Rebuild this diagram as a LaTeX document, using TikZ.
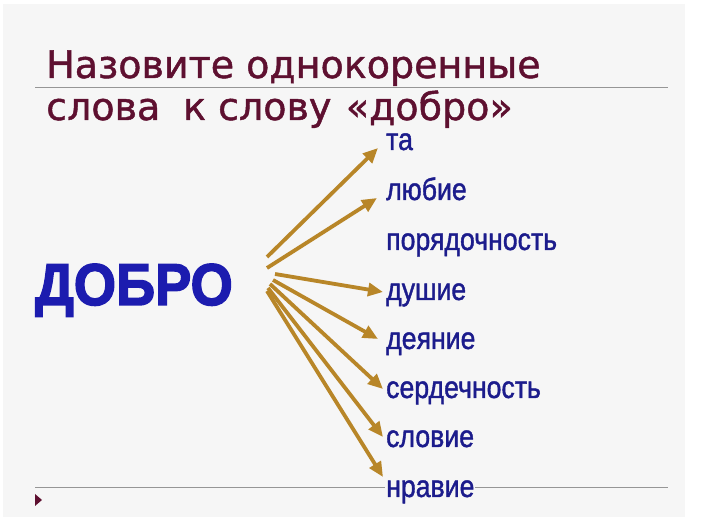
\documentclass[tikz,border=0pt]{standalone}
\usepackage{fontspec}
\setmainfont{DejaVu Sans}
\newfontfamily\titlefont[FakeBold=1.2]{DejaVu Sans}
\newfontfamily\wordfont[FakeBold=1.4]{Liberation Sans}
\newfontfamily\bigfont[FakeBold=2.5]{Liberation Sans}
\usetikzlibrary{arrows.meta}
\definecolor{bg}{RGB}{246,246,246}
\definecolor{titlecol}{RGB}{94,16,48}
\definecolor{wordcol}{RGB}{28,28,140}
\definecolor{bigcol}{RGB}{28,28,175}
\definecolor{arrowcol}{RGB}{184,134,40}
\definecolor{rulecol}{RGB}{150,150,150}
\tikzset{
  titletext/.style={anchor=base west, inner sep=0pt, text=titlecol, font=\titlefont\fontsize{38}{40}\selectfont},
  wordtext/.style={anchor=base west, inner sep=0pt, text=wordcol, font=\wordfont\fontsize{31}{34}\selectfont},
  arr/.style={draw=arrowcol, line width=3.8pt, -{Triangle[length=15pt,width=13pt]}},
  rulestyle/.style={draw=rulecol, line width=0.9pt}
}
\newcommand{\myword}[1]{\scalebox{0.86}[1]{#1}}
\begin{document}
\begin{tikzpicture}[x=1pt,y=-1pt]
\useasboundingbox (0,0) rectangle (702,526);
\fill[white] (0,0) rectangle (702,526);
\fill[bg] (3,4) rectangle (685,517);
% rules
\coordinate (r1a) at (35,87);
\coordinate (r1b) at (668,87);
\coordinate (r2a) at (35,487);
\coordinate (r2b) at (668,487);
\draw[rulestyle] (r1a) -- (r1b);
\draw[rulestyle] (r2a) -- (r2b);
% title
\node[titletext] (t1) at (46,78) {Назовите однокоренные};
\node[titletext, text depth=5pt] (t2) at (46,120) {слова\hspace{0.6em}к слову\hspace{0.38em}«добро»};
% big word
\node[anchor=base west, inner sep=0pt, text=bigcol, font=\bigfont\bfseries\fontsize{59}{60}\selectfont] (big) at (35,305) {\scalebox{0.92}[1]{ДОБРО}};
% words
\node[wordtext, text height=15pt] (w1) at (386,150) {\myword{та}};
\node[wordtext] (w2) at (386,200) {\myword{любие}};
\node[wordtext] (w3) at (386,250) {\myword{порядочность}};
\node[wordtext] (w4) at (386,300) {\myword{душие}};
\node[wordtext] (w5) at (386,349) {\myword{деяние}};
\node[wordtext] (w6) at (386,398) {\myword{сердечность}};
\node[wordtext] (w7) at (386,447) {\myword{словие}};
\node[wordtext, fill=bg, inner xsep=1pt] (w8) at (385,497) {\myword{нравие}};
% arrow starts
\coordinate (s1) at (267,257);
\coordinate (s2) at (267,268);
\coordinate (s3) at (275,274);
\coordinate (s4) at (273,280);
\coordinate (s5) at (270,284);
\coordinate (s6) at (268,288);
\coordinate (s7) at (267,291);
% arrow ends
\coordinate (e1) at (378,148);
\coordinate (e2) at (377,198);
\coordinate (e3) at (383,292);
\coordinate (e4) at (378,339);
\coordinate (e5) at (383,389);
\coordinate (e6) at (383,437);
\coordinate (e7) at (383,477);
\draw[arr] (s1) -- (e1);
\draw[arr] (s2) -- (e2);
\draw[arr] (s3) -- (e3);
\draw[arr] (s4) -- (e4);
\draw[arr] (s5) -- (e5);
\draw[arr] (s6) -- (e6);
\draw[arr] (s7) -- (e7);
% bottom-left triangle
\coordinate (p1) at (35,494);
\coordinate (p2) at (35,506);
\coordinate (p3) at (42,500);
\fill[titlecol] (p1) -- (p2) -- (p3) -- cycle;
\end{tikzpicture}
\end{document}
